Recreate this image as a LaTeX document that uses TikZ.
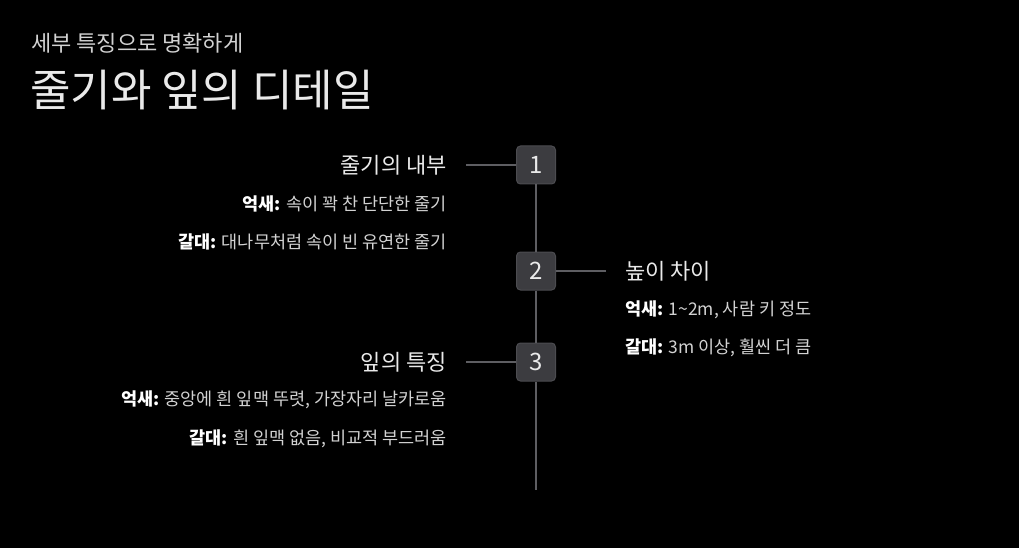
\documentclass[tikz,border=0pt]{standalone}
\usepackage{fontspec}
\setmainfont{Noto Sans CJK KR}
\usetikzlibrary{positioning}
\definecolor{tlBg}{HTML}{000000}
\definecolor{tlBox}{HTML}{3C3C40}
\definecolor{tlEdge}{HTML}{4C4C50}
\definecolor{tlLine}{HTML}{5E5E62}
\definecolor{tlText}{HTML}{EAEAEA}
\definecolor{tlDim}{HTML}{D2D2D2}
\tikzset{
  stepnum/.style={
    draw=tlEdge, fill=tlBox, rounded corners=4pt, line width=1pt,
    minimum width=39pt, minimum height=38pt, inner sep=0pt,
    font=\fontsize{24}{26}\selectfont, text=tlText
  },
  topic/.style={font=\fontsize{22}{26}\selectfont, text=tlText, inner sep=0pt},
  detail/.style={font=\fontsize{17.5}{21}\selectfont, text=tlDim, inner sep=0pt},
  heading/.style={font=\fontsize{44}{50}\selectfont, text=tlText, inner sep=0pt, anchor=west},
  subheading/.style={font=\fontsize{22}{26}\selectfont, text=tlDim, inner sep=0pt, anchor=west},
  spine/.style={draw=tlLine, line width=1.3pt},
  tick/.style={draw=tlLine, line width=1.3pt}
}
\newcommand{\kw}[1]{\textbf{\color{white}#1}}

\begin{document}
\begin{tikzpicture}[x=1pt, y=-1pt]
  \fill[tlBg] (0,0) rectangle (1019,548);
  \useasboundingbox (0,0) rectangle (1019,548);

  % titles
  \node[subheading] (sub) at (31,43) {세부 특징으로 명확하게};
  \node[heading] (title) at (30,90) {줄기와 잎의 디테일};

  % spine with steps
  \node[stepnum] (n1) at (536,165) {1};
  \node[stepnum] (n2) at (536,271) {2};
  \node[stepnum] (n3) at (536,362) {3};
  \coordinate (spineEnd) at (536,490);

  % step 1
  \node[topic, anchor=east] (t1) at (447,165) {줄기의 내부};
  \node[detail, anchor=east] (d1a) at (447,204) {\kw{억새:} 속이 꽉 찬 단단한 줄기};
  \node[detail, anchor=east] (d1b) at (447,242) {\kw{갈대:} 대나무처럼 속이 빈 유연한 줄기};

  % step 2
  \node[topic, anchor=west] (t2) at (625,271) {높이 차이};
  \node[detail, anchor=west] (d2a) at (625,310) {\kw{억새:} 1\textasciitilde2m, 사람 키 정도};
  \node[detail, anchor=west] (d2b) at (625,348) {\kw{갈대:} 3m 이상, 훨씬 더 큼};

  % step 3
  \node[topic, anchor=east] (t3) at (447,362) {잎의 특징};
  \node[detail, anchor=east] (d3a) at (447,400) {\kw{억새:} 중앙에 흰 잎맥 뚜렷, 가장자리 날카로움};
  \node[detail, anchor=east] (d3b) at (447,439) {\kw{갈대:} 흰 잎맥 없음, 비교적 부드러움};

  % connectors
  \draw[spine] (n1.south) -- (n2.north);
  \draw[spine] (n2.south) -- (n3.north);
  \draw[spine] (n3.south) -- (spineEnd);
  \draw[tick] (n1.west) -- ([xshift=19pt]t1.east);
  \draw[tick] (n2.east) -- ([xshift=-19pt]t2.west);
  \draw[tick] (n3.west) -- ([xshift=19pt]t3.east);
\end{tikzpicture}
\end{document}
